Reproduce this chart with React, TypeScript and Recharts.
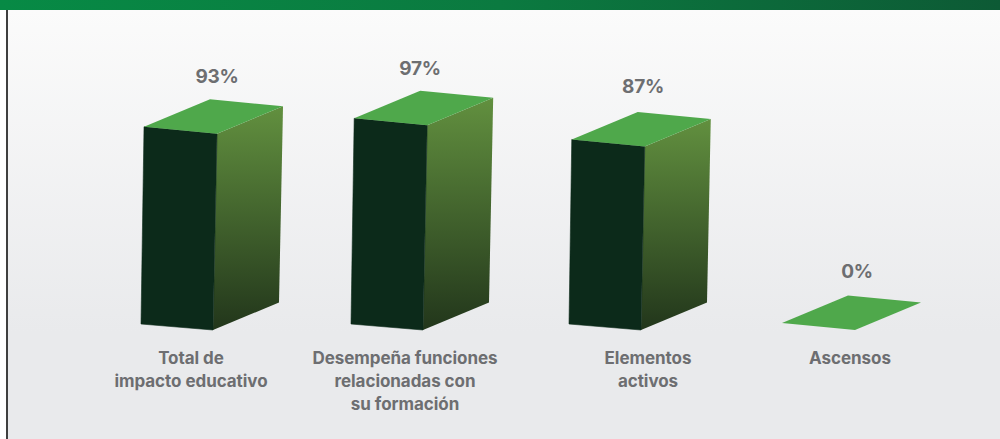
import { Bar, BarChart, LabelList, XAxis, YAxis } from "recharts";

const categories = [
  "Total de\nimpacto educativo",
  "Desempeña funciones\nrelacionadas con\nsu formación",
  "Elementos\nactivos",
  "Ascensos",
];
const percentages = [93, 97, 87, 0];

const data = categories.map((name, i) => ({ name, value: percentages[i] }));

// the original is not evenly spaced, these nudge things off the band centre
const barNudge = [0, -4, 0, 0];
const valueNudge = [40, 29, 38, 38];
const valueTop = [51, 50, 53, 52];
const tickNudge = [14, 14, 43, 31];

const GREY = "#6d6e71";
const FONT = "Inter, sans-serif";

function Box3D(props: any) {
  const { x, y, width, height, index } = props;
  const left = x + barNudge[index];
  const right = left + width;
  const bottom = y + height;
  const lean = (height * 4) / 195;
  const dx = 66;
  const dy = -27.5;
  const tr = [right + lean, y];
  const tl = [left + lean - 1, y - 7];
  const br = [right, bottom];
  const bl = [left, bottom - 6];
  const pts = (list: number[][]) => list.map((p) => p.join(",")).join(" ");
  const back = (p: number[]) => [p[0] + dx, p[1] + dy];

  return (
    <g>
      {height > 0 && (
        <>
          <polygon
            points={pts([tr, back(tr), back(br), br])}
            fill="url(#sideFade)"
          />
          <polygon
            points={pts([tl, tr, br, bl])}
            fill="#0c2a1a"
            stroke="#0c2a1a"
            strokeWidth={0.6}
          />
        </>
      )}
      <polygon points={pts([tl, back(tl), back(tr), tr])} fill="#4fa84b" />
    </g>
  );
}

function ValueLabel(props: any) {
  const { x, y, width, index, value } = props;
  return (
    <text
      x={x + width / 2 + valueNudge[index]}
      y={y - valueTop[index]}
      textAnchor="middle"
      fontFamily={FONT}
      fontWeight={700}
      fontSize={19}
      letterSpacing={-0.3}
      fill={GREY}
    >
      {value}%
    </text>
  );
}

function CategoryTick(props: any) {
  const { x, y, payload, index } = props;
  const lines = String(payload.value).split("\n");
  return (
    <text
      x={x + tickNudge[index]}
      y={y}
      textAnchor="middle"
      fontFamily={FONT}
      fontWeight={700}
      fontSize={17}
      letterSpacing={-0.05}
      fill={GREY}
    >
      {lines.map((line, i) => (
        <tspan key={line} x={x + tickNudge[index]} y={y + 26 + i * 23}>
          {line}
        </tspan>
      ))}
    </text>
  );
}

export default function App() {
  return (
    <div
      style={{
        position: "absolute",
        left: 0,
        top: 0,
        width: 1000,
        height: 439,
        overflow: "hidden",
        background: "#fff",
      }}
    >
      <div
        style={{
          position: "absolute",
          left: 0,
          top: 0,
          width: 1000,
          height: 10,
          background: "linear-gradient(90deg, #078a45 0%, #0b7a40 50%, #0d5a35 100%)",
        }}
      />
      <div
        style={{
          position: "absolute",
          left: 6,
          top: 10,
          width: 994,
          height: 429,
          borderLeft: "2px solid #3f3f3f",
          boxSizing: "border-box",
          background: "linear-gradient(180deg, #fbfbfb 0%, #e9eaec 75%)",
        }}
      />
      <div style={{ position: "absolute", left: 0, top: 0 }}>
        <BarChart
          width={1000}
          height={439}
          data={data}
          margin={{ top: 119, right: 74, bottom: 0, left: 70 }}
        >
          <defs>
            <linearGradient id="sideFade" x1="0" y1="0" x2="0" y2="1">
              <stop offset="0%" stopColor="#62903f" />
              <stop offset="100%" stopColor="#22361b" />
            </linearGradient>
          </defs>
          <XAxis
            dataKey="name"
            height={109}
            axisLine={false}
            tickLine={false}
            interval={0}
            tick={<CategoryTick />}
          />
          <YAxis hide domain={[0, 100]} />
          <Bar
            dataKey="value"
            barSize={72}
            shape={<Box3D />}
            isAnimationActive={false}
          >
            <LabelList dataKey="value" content={<ValueLabel />} />
          </Bar>
        </BarChart>
      </div>
    </div>
  );
}
